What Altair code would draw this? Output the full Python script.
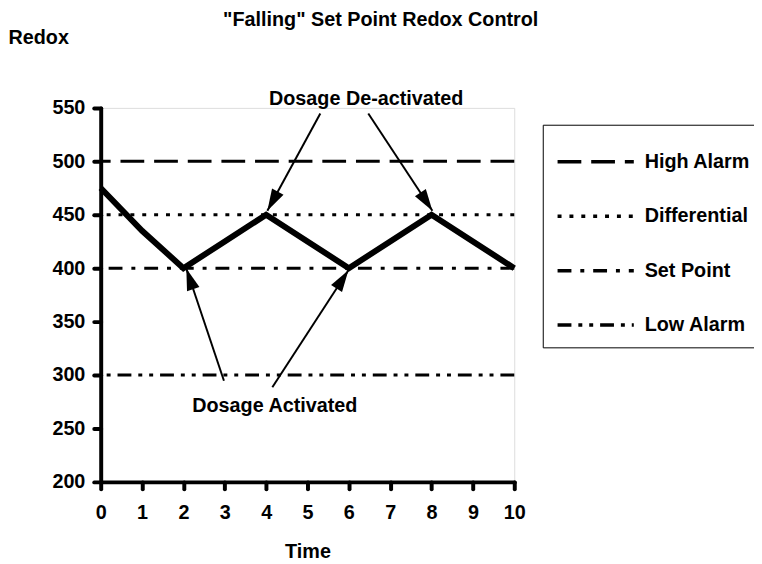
import math
import altair as alt
import pandas as pd

# ---- data ----
time = [0, 1, 2, 3, 4, 5, 6, 7, 8, 9, 10]
redox = [475, 435, 400, 425, 450, 425, 400, 425, 450, 425, 400]

x_ticks = [0, 1, 2, 3, 4, 5, 6, 7, 8, 9, 10]
y_ticks = [200, 250, 300, 350, 400, 450, 500, 550]

ref_names = ["High Alarm", "Differential", "Set Point", "Low Alarm"]
ref_values = [500, 450, 400, 300]
ref_dashes = [[24, 10], [4, 8], [14, 9, 4, 9], [14, 7, 4, 7, 4, 7]]

note_text = ["Dosage De-activated", "Dosage Activated"]
note_t = [6.42, 4.21]
note_v = [553, 265.3]

arrow_t0 = [5.31, 6.47, 2.98, 4.15]
arrow_v0 = [544.7, 544.7, 294.7, 288.6]
arrow_t1 = [4.03, 8.02, 2.07, 5.99]
arrow_v1 = [453.7, 453.7, 399.7, 398.1]

# ---- layout ----
W, H = 418, 378
X_DOM = [0, 10]
Y_DOM = [200, 550]
FONT = "Liberation Sans"
sx = W / (X_DOM[1] - X_DOM[0])
sy = H / (Y_DOM[1] - Y_DOM[0])

series = pd.DataFrame({"t": time, "v": redox})
refs = pd.DataFrame({"name": ref_names, "v": ref_values})
notes = pd.DataFrame({"text": note_text, "t": note_t, "v": note_v})
angles = []
for a0, b0, a1, b1 in zip(arrow_t0, arrow_v0, arrow_t1, arrow_v1):
    ang = math.degrees(math.atan2((a1 - a0) * sx, (b1 - b0) * sy))
    angles.append((ang + 360) % 360)
arrows = pd.DataFrame({"t0": arrow_t0, "v0": arrow_v0, "t1": arrow_t1,
                       "v1": arrow_v1, "ang": angles})

xscale = alt.Scale(domain=X_DOM, nice=False, zero=False)
yscale = alt.Scale(domain=Y_DOM, nice=False, zero=False)

xaxis = alt.Axis(values=x_ticks, title="Time", grid=False,
                 labelFont=FONT, labelFontSize=20, labelFontWeight="bold",
                 labelColor="black", labelPadding=14, labelFlush=False,
                 tickSize=7, tickWidth=4, tickColor="black", tickCap="round",
                 domainWidth=4, domainColor="black", domainCap="round",
                 titleFont=FONT, titleFontSize=20, titleFontWeight="bold",
                 titleColor="black", titleY=76, titleBaseline="alphabetic")
yaxis = alt.Axis(values=y_ticks, title="Redox", grid=False,
                 labelFont=FONT, labelFontSize=20, labelFontWeight="bold",
                 labelColor="black", labelPadding=9, labelFlush=False,
                 tickSize=7, tickWidth=4, tickColor="black", tickCap="round",
                 domainWidth=4, domainColor="black", domainCap="round",
                 titleFont=FONT, titleFontSize=20, titleFontWeight="bold",
                 titleColor="black", titleAngle=0, titleAlign="left",
                 titleX=-93.7, titleY=-65, titleBaseline="alphabetic")

rules = alt.Chart(refs).mark_rule(color="black", strokeWidth=3).encode(
    y=alt.Y("v:Q", scale=yscale, axis=yaxis),
    strokeDash=alt.StrokeDash(
        "name:N",
        scale=alt.Scale(domain=ref_names, range=ref_dashes),
        sort=ref_names,
        legend=alt.Legend(
            title=None, orient="none", legendX=446.8, legendY=17,
            direction="vertical",
            symbolType="M-0.98,0H2.37", symbolSize=2116,
            symbolStrokeWidth=3.5, symbolStrokeColor="black",
            labelFont=FONT, labelFontSize=20, labelFontWeight="bold",
            labelColor="black", labelOffset=40.5,
            rowPadding=20, padding=12.5, strokeColor="black",
        ),
    ),
)

line = alt.Chart(series).mark_line(color="black", strokeWidth=6,
                                   strokeJoin="miter").encode(
    x=alt.X("t:Q", scale=xscale, axis=xaxis),
    y=alt.Y("v:Q", scale=yscale),
)

shafts = alt.Chart(arrows).mark_rule(color="black", strokeWidth=2).encode(
    x=alt.X("t0:Q", scale=xscale), y=alt.Y("v0:Q", scale=yscale),
    x2="t1:Q", y2="v1:Q",
)
heads = alt.Chart(arrows).mark_point(
    shape="M0,0L-0.6,2L0.6,2Z", filled=True, color="black", opacity=1,
    size=484, strokeWidth=0,
).encode(
    x=alt.X("t1:Q", scale=xscale), y=alt.Y("v1:Q", scale=yscale),
    angle=alt.Angle("ang:Q", scale=None),
)

labels = alt.Chart(notes).mark_text(
    font=FONT, fontSize=20, fontWeight="bold", color="black",
    align="center", baseline="alphabetic",
).encode(
    x=alt.X("t:Q", scale=xscale), y=alt.Y("v:Q", scale=yscale),
    text="text:N",
)

chart = alt.layer(rules, line, shafts, heads, labels).properties(
    width=W, height=H,
    title=alt.TitleParams('"Falling" Set Point Redox Control',
                          font=FONT, fontSize=20, fontWeight="bold",
                          color="black", anchor="middle", frame="group",
                          dx=74, dy=19, offset=1, baseline="alphabetic"),
    autosize=alt.AutoSizeParams(type="none"),
    padding={"left": 93.7, "top": 98, "right": 242.3, "bottom": 80},
).configure_view(stroke=None).configure_legend(
    strokeWidth=2
).configure(background="white")

chart.save("out.html", embed_options={"renderer": "svg", "actions": False})
